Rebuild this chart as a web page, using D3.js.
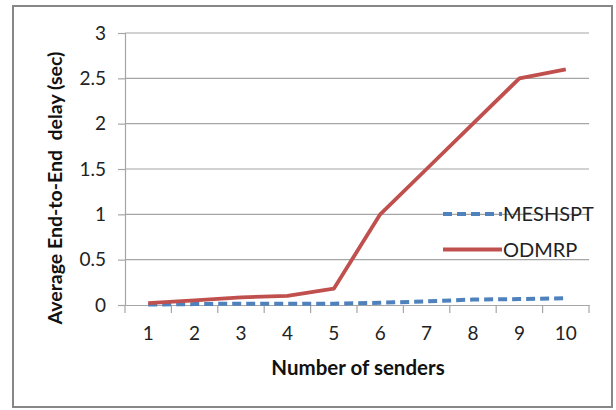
<!DOCTYPE html>
<html>
<head>
<meta charset="utf-8">
<script src="https://cdn.jsdelivr.net/npm/d3@7"></script>
<style>
  html, body { margin: 0; padding: 0; background: #fff; }
  svg { display: block; font-family: Lato, "Open Sans", sans-serif; }
</style>
</head>
<body>
<svg id="chart" width="616" height="410"></svg>
<script>
// Number of senders on the x axis
const senders = ["1", "2", "3", "4", "5", "6", "7", "8", "9", "10"];
// Average end-to-end delay (sec) per protocol
const meshspt = [0.005, 0.01, 0.015, 0.015, 0.015, 0.025, 0.04, 0.06, 0.065, 0.075];
const odmrp = [0.02, 0.05, 0.085, 0.1, 0.18, 1.0, 1.5, 2.0, 2.5, 2.6];
const yTicks = [0, 0.5, 1, 1.5, 2, 2.5, 3];

const seriesList = [
  { name: "MESHSPT", values: meshspt, color: "#4F81BD", dash: "9,5", width: 4 },
  { name: "ODMRP", values: odmrp, color: "#C0504D", dash: null, width: 3.8 }
];

const svg = d3.select("#chart");
const plot = { left: 125, right: 589, top: 33, bottom: 305 };

// Outer chart border
svg.append("rect")
  .attr("x", 13).attr("y", 6).attr("width", 599).attr("height", 401)
  .attr("fill", "#fff").attr("stroke", "#878787").attr("stroke-width", 2);

const x = d3.scaleBand().domain(senders).range([plot.left, plot.right]).padding(0);
const y = d3.scaleLinear().domain([0, 3]).range([plot.bottom, plot.top]);

// Horizontal gridlines
svg.append("g").selectAll("line").data(yTicks.filter(d => d > 0)).join("line")
  .attr("x1", plot.left).attr("x2", plot.right)
  .attr("y1", d => y(d)).attr("y2", d => y(d))
  .attr("stroke", "#a6a6a6").attr("stroke-width", 1.2);

// Y axis
const yAxis = svg.append("g").attr("transform", `translate(${plot.left},0)`)
  .call(d3.axisLeft(y).tickValues(yTicks).tickSize(7).tickPadding(12).tickFormat(d3.format("")));
yAxis.select(".domain").attr("stroke", "#a6a6a6").attr("stroke-width", 1.2);
yAxis.selectAll(".tick line").attr("stroke", "#a6a6a6").attr("stroke-width", 1.2);
yAxis.selectAll("text").attr("font-size", 19).attr("fill", "#222")
  .attr("font-family", "Lato, 'Open Sans', sans-serif");

// X axis: ticks sit on category boundaries
const xAxis = svg.append("g").attr("transform", `translate(0,${plot.bottom})`)
  .call(d3.axisBottom(x).tickSize(0).tickPadding(22));
xAxis.select(".domain").attr("stroke", "#a6a6a6").attr("stroke-width", 1.2);
xAxis.selectAll("text").attr("font-size", 19).attr("fill", "#222")
  .attr("font-family", "Lato, 'Open Sans', sans-serif");
const bounds = senders.map(s => x(s)).concat([x(senders[senders.length - 1]) + x.bandwidth()]);
xAxis.append("g").selectAll("line").data(bounds).join("line")
  .attr("x1", d => d).attr("x2", d => d).attr("y1", 0).attr("y2", 8)
  .attr("stroke", "#a6a6a6").attr("stroke-width", 1.2);

// Series lines
const line = d3.line()
  .x((d, i) => x(senders[i]) + x.bandwidth() / 2)
  .y(d => y(d));
seriesList.forEach(s => {
  svg.append("path").datum(s.values)
    .attr("d", line)
    .attr("fill", "none")
    .attr("stroke", s.color)
    .attr("stroke-width", s.width)
    .attr("stroke-dasharray", s.dash)
    .attr("stroke-linejoin", "round");
});

// Legend
const legend = svg.append("g").attr("transform", "translate(443,214)");
seriesList.forEach((s, i) => {
  const g = legend.append("g").attr("transform", `translate(0,${i * 35.5})`);
  g.append("line").attr("x1", 0).attr("x2", 59).attr("y1", 0).attr("y2", 0)
    .attr("stroke", s.color).attr("stroke-width", s.width)
    .attr("stroke-dasharray", s.dash);
  g.append("text").attr("x", 60).attr("y", 0).attr("dy", "0.35em")
    .attr("font-size", 20).attr("fill", "#222").text(s.name);
});

// Axis titles
svg.append("text")
  .attr("x", (plot.left + plot.right) / 2 + 1).attr("y", 375)
  .attr("text-anchor", "middle").attr("font-size", 20.5).attr("font-weight", "bold")
  .attr("fill", "#111").text("Number of senders");

svg.append("text")
  .attr("transform", "translate(62,188) rotate(-90)")
  .attr("text-anchor", "middle").attr("font-size", 19.5).attr("font-weight", "bold")
  .attr("fill", "#111")
  .style("white-space", "pre")
  .text("Average End-to-End  delay (sec)");
</script>
</body>
</html>
